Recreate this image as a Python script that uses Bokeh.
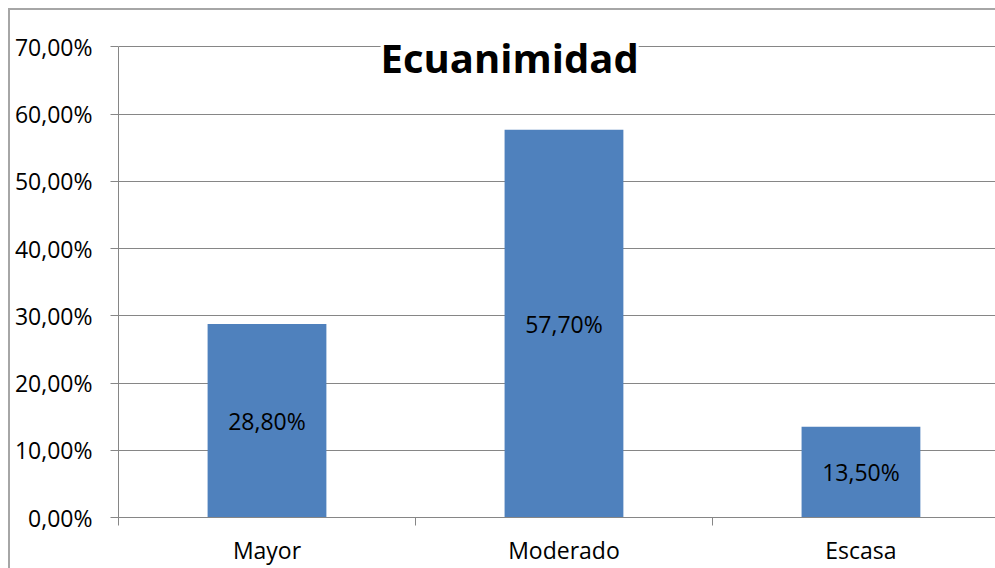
from bokeh.plotting import figure
from bokeh.models import Range1d, FixedTicker, Label, ColumnDataSource, InlineStyleSheet
from bokeh.core.properties import value
from bokeh.embed import file_html
from bokeh.resources import INLINE

# ---- data ----
categories = ["Mayor", "Moderado", "Escasa"]
values = [28.8, 57.7, 13.5]
y_ticks = [0, 10, 20, 30, 40, 50, 60, 70]
y_tick_labels = ["0,00%", "10,00%", "20,00%", "30,00%", "40,00%", "50,00%", "60,00%", "70,00%"]
title_text = "Ecuanimidad"

FONT = "Open Sans"
GRID = "#868686"
BAR = "#4F81BD"

xs = [i + 0.5 for i in range(len(categories))]
bar_labels = [f"{v:.2f}%".replace(".", ",") for v in values]
src = ColumnDataSource(dict(x=xs, top=values, mid=[v / 2 for v in values], lab=bar_labels))

p = figure(width=995, height=568, output_backend="svg", toolbar_location=None,
           x_range=Range1d(0, 2.953), y_range=Range1d(0, 72),
           min_border_left=118, min_border_right=0, min_border_top=33, min_border_bottom=50)
p.border_fill_color = None
p.outline_line_color = None
p.stylesheets = [InlineStyleSheet(css=(
    ":host { overflow: hidden; }"
    ":host::before { content: ''; position: absolute; left: 8px; top: 8px; "
    "width: calc(100% - 8px); height: calc(100% - 8px); border-left: 2px solid #a6a6a6; "
    "border-top: 2px solid #a6a6a6; box-sizing: border-box; pointer-events: none; }"
))]

p.vbar(x="x", top="top", width=0.4, source=src, fill_color=BAR, line_color=None)
p.text(x="x", y="mid", text="lab", source=src, text_align="center", text_baseline="middle",
       text_font=value(FONT), text_font_size="23px", text_color="#000000")

# axes
p.xgrid.grid_line_color = None
p.ygrid.grid_line_color = GRID
p.ygrid.grid_line_width = 1
p.ygrid.ticker = FixedTicker(ticks=y_ticks)

p.yaxis.ticker = FixedTicker(ticks=y_ticks)
p.yaxis.bounds = (0, 70)
p.yaxis.major_label_overrides = {t: l for t, l in zip(y_ticks, y_tick_labels)}
p.yaxis.axis_line_color = GRID
p.yaxis.major_tick_line_color = GRID
p.yaxis.major_tick_in = 0
p.yaxis.major_tick_out = 8
p.yaxis.minor_tick_line_color = None
p.yaxis.major_label_standoff = 18
p.yaxis.major_label_text_font = FONT
p.yaxis.major_label_text_font_size = "23px"
p.yaxis.major_label_text_color = "#000000"

p.xaxis.ticker = FixedTicker(ticks=xs, minor_ticks=[0, 1, 2, 3])
p.xaxis.major_label_overrides = {x: c for x, c in zip(xs, categories)}
p.xaxis.axis_line_color = GRID
p.xaxis.major_tick_line_color = None
p.xaxis.minor_tick_line_color = GRID
p.xaxis.minor_tick_in = 0
p.xaxis.minor_tick_out = 8
p.xaxis.major_label_standoff = 8
p.xaxis.major_label_text_font = FONT
p.xaxis.major_label_text_font_size = "23px"
p.xaxis.major_label_text_color = "#000000"

title = Label(x=1.317, y=68.4, text=title_text, text_align="center", text_baseline="alphabetic",
              text_font=FONT, text_font_style="bold", text_font_size="40px", text_color="#000000",
              background_fill_color="white")
p.add_layout(title)

open("out.html", "w").write(file_html(p, INLINE))
